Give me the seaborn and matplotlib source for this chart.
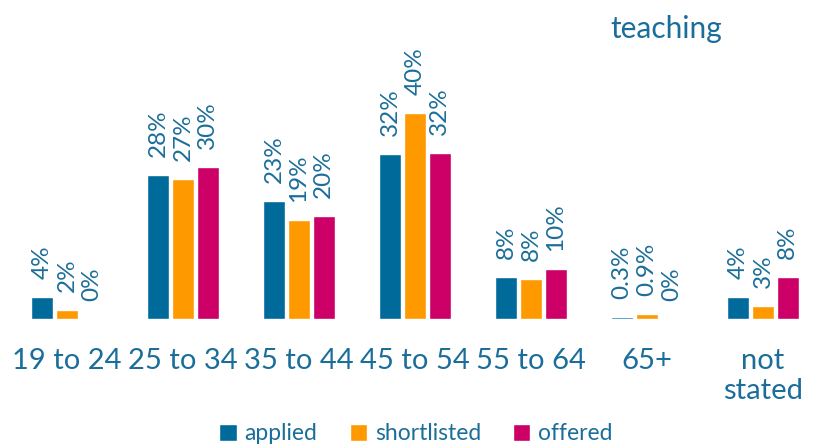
import pandas as pd
import numpy as np
import matplotlib.pyplot as plt
import seaborn as sns

# age bands and the three stages
age_groups=['19 to 24','25 to 34','35 to 44','45 to 54','55 to 64','65+','not\nstated']
applied=[4.2,27.9,23.0,32.0,8.2,0.4,4.2]
shortlisted=[1.8,27.2,19.2,40.0,7.8,0.9,2.6]
offered=[0,29.5,20.0,32.3,9.8,0,8.2]
applied_lbl=['4%','28%','23%','32%','8%','0.3%','4%']
shortlisted_lbl=['2%','27%','19%','40%','8%','0.9%','3%']
offered_lbl=['0%','30%','20%','32%','10%','0%','8%']

stages=['applied','shortlisted','offered']
palette={'applied':'#006A9A','shortlisted':'#FF9900','offered':'#CC0066'}
txt='#1B6E9A'

df=pd.DataFrame({'age':age_groups*3,
                 'stage':np.repeat(stages,len(age_groups)),
                 'pct':applied+shortlisted+offered})

sns.set_style('white')
plt.rcParams['font.family']=['Lato','DejaVu Sans']

fig=plt.figure(figsize=(8.19,4.45),dpi=100)
ax=fig.add_axes([0.011,0.283,0.9914,0.717])
sns.barplot(data=df,x='age',y='pct',hue='stage',palette=palette,saturation=1,
            width=0.64,gap=0.12,ax=ax,legend=True)

#value labels above each bar
for cont,lbls in zip(ax.containers,[applied_lbl,shortlisted_lbl,offered_lbl]):
    ax.bar_label(cont,labels=lbls,rotation=90,padding=13,fontsize=17.5,color=txt)

ax.set_ylim(0,62)
ax.set_xlim(-0.5,6.5)
ax.set_xlabel('')
ax.set_ylabel('')
ax.set_yticks([])
ax.tick_params(axis='x',length=0,pad=21,labelsize=21,labelcolor=txt)
for s in ax.spines.values():
    s.set_visible(False)

handles,labels=ax.get_legend_handles_labels()
ax.get_legend().remove()
fig.legend(handles,labels,loc='lower center',bbox_to_anchor=(0.508,-0.045),ncol=3,
           frameon=False,fontsize=16.5,labelcolor=txt,handlelength=0.75,handleheight=0.75,
           handletextpad=0.35,columnspacing=1.4)

fig.text(0.814,0.935,'teaching',fontsize=21.5,color=txt,ha='center',va='center')

fig.savefig('out.png',dpi=100)
